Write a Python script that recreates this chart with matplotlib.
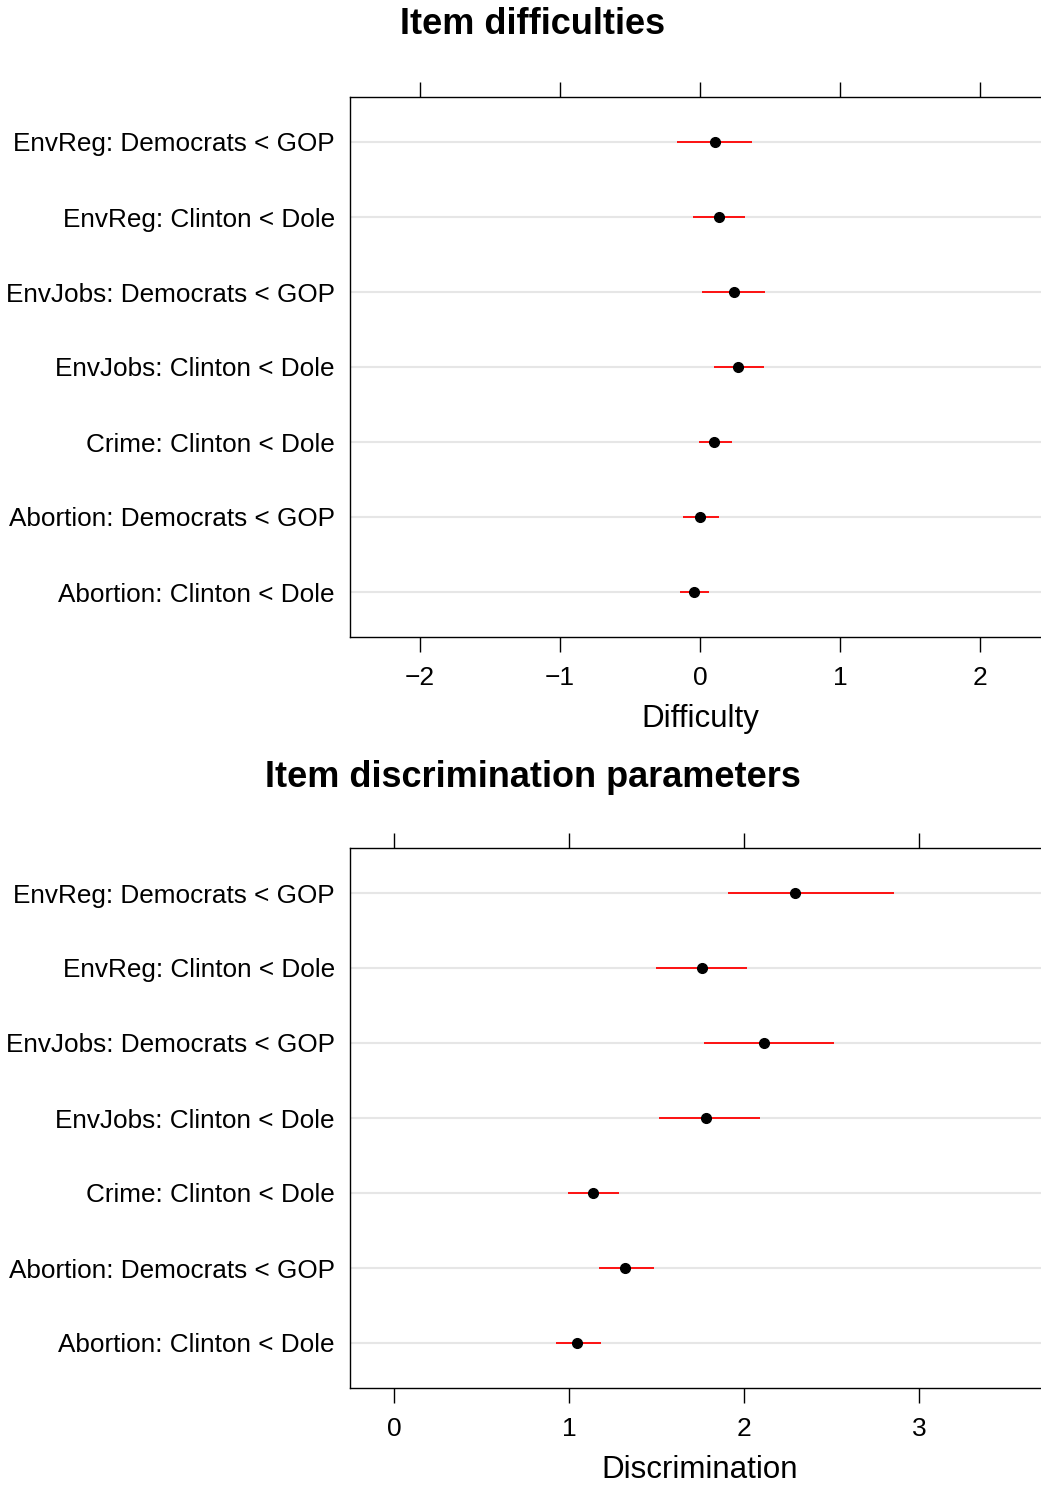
import matplotlib
matplotlib.use('Agg')
import matplotlib.pyplot as plt
import numpy as np

plt.rcParams['font.family'] = ['Liberation Sans', 'DejaVu Sans']

# item labels, bottom to top
items = ['Abortion: Clinton < Dole', 'Abortion: Democrats < GOP', 'Crime: Clinton < Dole',
         'EnvJobs: Clinton < Dole', 'EnvJobs: Democrats < GOP', 'EnvReg: Clinton < Dole',
         'EnvReg: Democrats < GOP']

# difficulty estimates and interval ends
diff_est = [-0.043, 0.002, 0.102, 0.271, 0.245, 0.138, 0.107]
diff_lo = [-0.141, -0.124, -0.007, 0.100, 0.017, -0.050, -0.162]
diff_hi = [0.062, 0.133, 0.229, 0.455, 0.462, 0.324, 0.371]

# discrimination estimates and interval ends
disc_est = [1.048, 1.320, 1.139, 1.783, 2.113, 1.758, 2.291]
disc_lo = [0.924, 1.170, 0.992, 1.512, 1.770, 1.495, 1.907]
disc_hi = [1.185, 1.486, 1.286, 2.090, 2.516, 2.019, 2.855]

W, H = 1041, 1489
fig = plt.figure(figsize=(W / 100, H / 100), dpi=100)


def panel(top_px, est, lo, hi, xlim, xticks, xlabel, title, title_y):
    ax = fig.add_axes([350 / W, 1 - (top_px + 540) / H, 700 / W, 540 / H])
    y = np.arange(1, len(items) + 1)
    for yi in y:
        ax.axhline(yi, color='#e6e6e6', lw=1.5, zorder=0)
    ax.hlines(y, lo, hi, color='red', lw=1.3, zorder=2)
    ax.plot(est, y, 'o', color='black', ms=7, zorder=3)
    ax.set_xlim(*xlim)
    ax.set_ylim(0.4, 7.6)
    ax.set_yticks(y)
    ax.set_yticklabels(items, fontsize=18.8)
    ax.set_xticks(xticks)
    ax.set_xticklabels([str(t).replace('-', '\u2212') for t in xticks], fontsize=19)
    ax.tick_params(axis='y', length=0, pad=11)
    ax.tick_params(axis='x', direction='out', length=11, width=1.0, top=True, pad=10)
    for s in ax.spines.values():
        s.set_linewidth(1.0)
    ax.set_xlabel(xlabel, fontsize=22.5, labelpad=10)
    fig.text(533 / W, 1 - title_y / H, title, fontsize=26, fontweight='bold',
             ha='center', va='center')
    return ax


panel(97, diff_est, diff_lo, diff_hi, (-2.5, 2.5), [-2, -1, 0, 1, 2],
      'Difficulty', 'Item difficulties', 25)
panel(848, disc_est, disc_lo, disc_hi, (-0.2514, 3.7486), [0, 1, 2, 3],
      'Discrimination', 'Item discrimination parameters', 777)

fig.savefig('out.png', dpi=100)
